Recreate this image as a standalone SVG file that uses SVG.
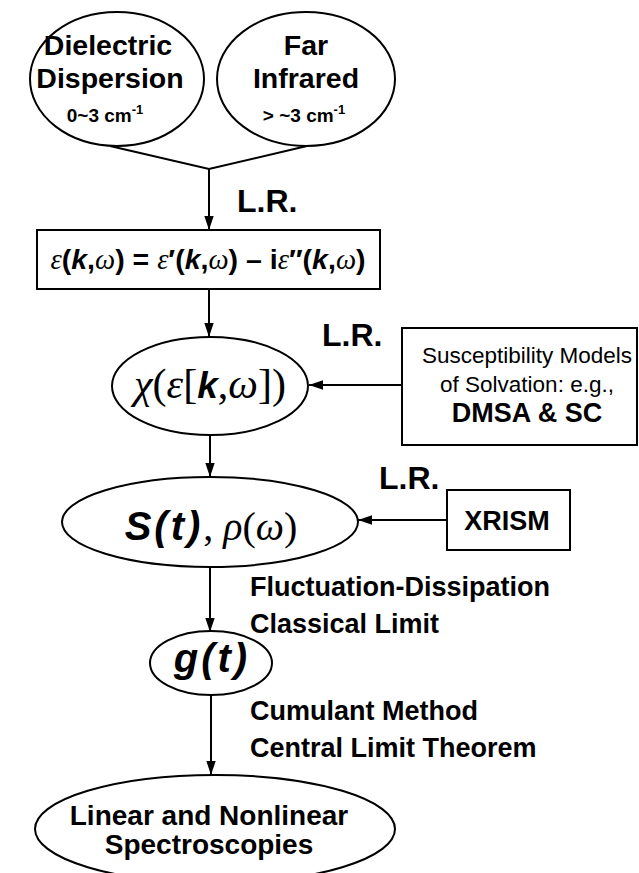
<svg xmlns="http://www.w3.org/2000/svg" width="639" height="873" viewBox="0 0 639 873">
<defs>
<style>
.shape{fill:#fff;stroke:#000;stroke-width:2}
.line{fill:none;stroke:#000;stroke-width:2}
.b{font-family:"Liberation Sans",Arial,sans-serif;font-weight:bold;fill:#000}
.r{font-family:"Liberation Sans",Arial,sans-serif;font-weight:normal;fill:#000}
.bi{font-family:"Liberation Sans",Arial,sans-serif;font-weight:bold;font-style:italic}
.si{font-family:"Liberation Serif","Times New Roman",serif;font-style:italic;font-weight:normal}
.sr{font-family:"Liberation Serif","Times New Roman",serif;font-style:normal;font-weight:normal}
.sb{font-family:"Liberation Sans",Arial,sans-serif;font-weight:bold;font-style:normal}
</style>
<marker id="arr" markerUnits="userSpaceOnUse" markerWidth="14" markerHeight="20" refX="18" refY="6" orient="auto" viewBox="0 0 18 12">
<path d="M0,0 L18,6 L0,12 Z" fill="#000"/>
</marker>
</defs>
<rect width="639" height="873" fill="#fff"/>
<g id="connectors">
<polyline class="line" points="110,146 209,169 307,146"/>
<line class="line" x1="209" y1="169" x2="209" y2="230" marker-end="url(#arr)"/>
<line class="line" x1="209" y1="289" x2="209" y2="337" marker-end="url(#arr)"/>
<line class="line" x1="402" y1="385" x2="309" y2="385" marker-end="url(#arr)"/>
<line class="line" x1="210" y1="435" x2="210" y2="477" marker-end="url(#arr)"/>
<line class="line" x1="447" y1="520" x2="358" y2="520" marker-end="url(#arr)"/>
<line class="line" x1="210" y1="567" x2="210" y2="632" marker-end="url(#arr)"/>
<line class="line" x1="211" y1="695" x2="211" y2="775" marker-end="url(#arr)"/>
<text class="b" x="237" y="212" font-size="32">L.R.</text>
<text class="b" x="322" y="346" font-size="32">L.R.</text>
<text class="b" x="379" y="489" font-size="32">L.R.</text>
<text class="b" x="250" y="596" font-size="27">Fluctuation-Dissipation</text>
<text class="b" x="250" y="633" font-size="27">Classical Limit</text>
<text class="b" x="250" y="720" font-size="27">Cumulant Method</text>
<text class="b" x="250" y="757" font-size="27">Central Limit Theorem</text>
</g>
<g id="dielectric">
<ellipse class="shape" cx="117" cy="79" rx="87" ry="67"/>
<text class="b" x="108" y="55" font-size="28.5" text-anchor="middle">Dielectric</text>
<text class="b" x="110" y="88" font-size="28.5" text-anchor="middle">Dispersion</text>
<text class="b" x="105" y="122" font-size="19" text-anchor="middle">0~3 cm<tspan font-size="13" dy="-8">-1</tspan></text>
</g>
<g id="farinfrared">
<ellipse class="shape" cx="306" cy="79" rx="89" ry="67"/>
<text class="b" x="306" y="55" font-size="28.5" text-anchor="middle">Far</text>
<text class="b" x="306" y="88" font-size="28.5" text-anchor="middle">Infrared</text>
<text class="b" x="304" y="122" font-size="19" text-anchor="middle">&gt; ~3 cm<tspan font-size="13" dy="-8">-1</tspan></text>
</g>
<g id="epsilon">
<rect class="shape" x="37" y="230" width="343" height="59"/>
<text x="208" y="269" font-size="28.5" text-anchor="middle"><tspan class="si">ε</tspan><tspan class="sb">(</tspan><tspan class="bi">k</tspan><tspan class="sb">,</tspan><tspan class="si">ω</tspan><tspan class="sb">) = </tspan><tspan class="si">ε</tspan><tspan class="sb">′(</tspan><tspan class="bi">k</tspan><tspan class="sb">,</tspan><tspan class="si">ω</tspan><tspan class="sb">) – i</tspan><tspan class="si">ε</tspan><tspan class="sb">″(</tspan><tspan class="bi">k</tspan><tspan class="sb">,</tspan><tspan class="si">ω</tspan><tspan class="sb">)</tspan></text>
</g>
<g id="chi">
<ellipse class="shape" cx="210" cy="386" rx="98" ry="49"/>
<text x="210" y="398" font-size="42" text-anchor="middle"><tspan class="si">χ</tspan><tspan class="sr">(</tspan><tspan class="si">ε</tspan><tspan class="sr">[</tspan><tspan class="bi" font-size="37">k</tspan><tspan class="sr">,</tspan><tspan class="si">ω</tspan><tspan class="sr">])</tspan></text>
</g>
<g id="susceptibility">
<rect class="shape" x="402" y="328" width="235" height="117"/>
<text class="r" x="527" y="363" font-size="22.5" text-anchor="middle">Susceptibility Models</text>
<text class="r" x="527" y="392" font-size="22.5" text-anchor="middle">of Solvation: e.g.,</text>
<text class="b" x="527" y="422" font-size="27" text-anchor="middle">DMSA &amp; SC</text>
</g>
<g id="S">
<ellipse class="shape" cx="210" cy="522" rx="148" ry="45"/>
<text x="211" y="540" font-size="40" text-anchor="middle"><tspan class="bi" letter-spacing="3">S(t)</tspan><tspan class="sr">, </tspan><tspan class="si">ρ</tspan><tspan class="sr">(</tspan><tspan class="si">ω</tspan><tspan class="sr">)</tspan></text>
</g>
<g id="xrism">
<rect class="shape" x="447" y="490" width="123" height="60"/>
<text class="b" x="507" y="530" font-size="27" text-anchor="middle">XRISM</text>
</g>
<g id="g">
<ellipse class="shape" cx="211" cy="663" rx="61" ry="32"/>
<text class="bi" x="212" y="672" font-size="40" text-anchor="middle" letter-spacing="3">g(t)</text>
</g>
<g id="spectroscopies">
<ellipse class="shape" cx="215" cy="829" rx="180" ry="54"/>
<text class="b" x="209" y="825" font-size="28" text-anchor="middle">Linear and Nonlinear</text>
<text class="b" x="209" y="854" font-size="28" text-anchor="middle">Spectroscopies</text>
</g>
</svg>
